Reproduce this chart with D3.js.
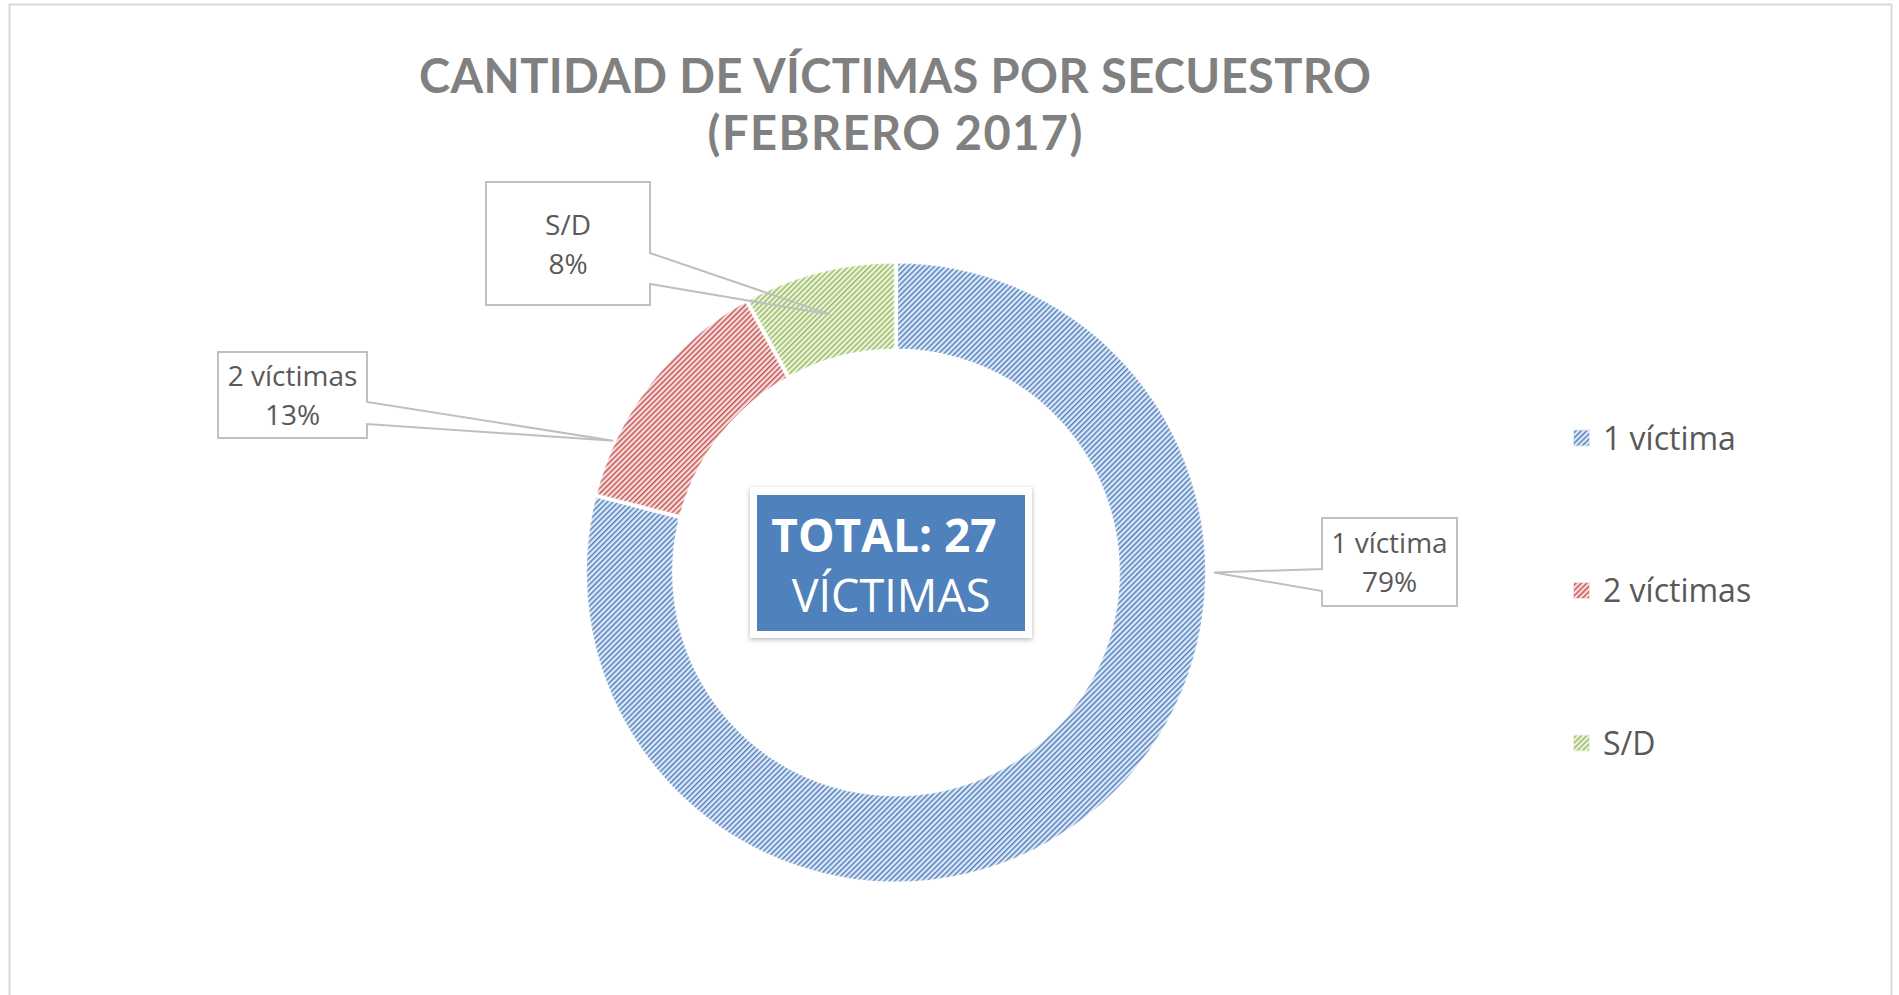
<!DOCTYPE html>
<html>
<head>
<meta charset="utf-8">
<script src="https://cdn.jsdelivr.net/npm/d3@7"></script>
<style>
  body { margin: 0; background: #fff; }
  svg { display: block; }
</style>
</head>
<body>
<svg id="chart" width="1899" height="995"></svg>
<script>
let categories = ["1 víctima", "2 víctimas", "S/D"];
let percentages = [79, 13, 8];
let titleLines = ["CANTIDAD DE VÍCTIMAS POR SECUESTRO", "(FEBRERO 2017)"];
let totalLines = ["TOTAL: 27", "VÍCTIMAS"];

let lineColors = ["#4a7cc0", "#c24e4b", "#94b957"];
let backColors = ["#dfe8f4", "#f5dedd", "#edf3e1"];

let svg = d3.select("#chart");
let cx = 896, cy = 572.5;
let outerR = 311, innerR = 222;
let font = "'Open Sans', 'Noto Sans', sans-serif";

// chart frame
svg.append("rect")
  .attr("x", 9.5).attr("y", 4.5)
  .attr("width", 1882).attr("height", 1010)
  .attr("fill", "#fff")
  .attr("stroke", "#d9d9d9")
  .attr("stroke-width", 2);

let defs = svg.append("defs");

categories.forEach((c, i) => {
  let p = defs.append("pattern")
    .attr("id", "pat" + i)
    .attr("patternUnits", "userSpaceOnUse")
    .attr("width", 3.8).attr("height", 10)
    .attr("patternTransform", "rotate(45)");
  p.append("rect").attr("width", 3.8).attr("height", 10).attr("fill", backColors[i]);
  p.append("rect").attr("width", 1.4).attr("height", 10).attr("fill", lineColors[i]);
});

let soft = defs.append("filter").attr("id", "soft")
  .attr("x", "-5%").attr("y", "-5%").attr("width", "110%").attr("height", "110%");
soft.append("feGaussianBlur").attr("stdDeviation", 1.2);

let shadow = defs.append("filter").attr("id", "shadow")
  .attr("x", "-10%").attr("y", "-10%").attr("width", "120%").attr("height", "130%");
shadow.append("feDropShadow")
  .attr("dx", 0).attr("dy", 1.5).attr("stdDeviation", 2.5)
  .attr("flood-color", "#000").attr("flood-opacity", 0.3);

// title
svg.append("g")
  .selectAll("text")
  .data(titleLines)
  .enter()
  .append("text")
  .attr("x", 895)
  .attr("y", (d, i) => 93 + i * 57)
  .attr("text-anchor", "middle")
  .attr("textLength", (d, i) => (i === 0 ? 952 : 375))
  .attr("lengthAdjust", "spacing")
  .attr("font-family", "Lato, 'Open Sans', sans-serif")
  .attr("font-weight", "bold")
  .attr("font-size", 47)
  .attr("fill", "#808080")
  .text((d) => d);

// donut
let pie = d3.pie().sort(null).value((d) => d);
let arcs = pie(percentages);
let arc = d3.arc().innerRadius(innerR).outerRadius(outerR);

// soft-edged mask so the hatching stays crisp inside the slices
let mask = defs.append("mask").attr("id", "softMask")
  .attr("maskUnits", "userSpaceOnUse")
  .attr("x", 0).attr("y", 0).attr("width", 1899).attr("height", 995);
mask.append("g")
  .attr("transform", `translate(${cx},${cy})`)
  .attr("filter", "url(#soft)")
  .selectAll("path")
  .data(arcs)
  .enter()
  .append("path")
  .attr("d", arc)
  .attr("fill", "#fff")
  .attr("stroke", "#000")
  .attr("stroke-width", 3.5);

let donut = svg.append("g").attr("mask", "url(#softMask)")
  .append("g")
  .attr("transform", `translate(${cx},${cy})`);

donut.selectAll("path")
  .data(arcs)
  .enter()
  .append("path")
  .attr("d", arc)
  .attr("fill", (d, i) => `url(#pat${i})`)
  .attr("stroke", "#fff")
  .attr("stroke-width", 3.5);

// data label callouts
let labelLayout = [
  { box: [1322, 518, 135, 88], side: "left", notch: [569, 591], tip: [90, 318] },
  { box: [218, 352, 149, 86], side: "right", notch: [402, 424], tip: [295, 312] },
  { box: [486, 182, 164, 123], side: "right", notch: [253, 284], tip: null },
];

let callouts = svg.append("g");
arcs.forEach((a, i) => {
  let L = labelLayout[i];
  let [x, y, w, h] = L.box;
  let t;
  if (L.tip) {
    t = d3.pointRadial((L.tip[0] * Math.PI) / 180, L.tip[1]);
  } else {
    t = arc.centroid(a);
  }
  let tx = cx + t[0], ty = cy + t[1];
  let path;
  if (L.side === "right") {
    path = `M${x},${y}H${x + w}V${L.notch[0]}L${tx},${ty}L${x + w},${L.notch[1]}V${y + h}H${x}Z`;
  } else {
    path = `M${x},${y}H${x + w}V${y + h}H${x}V${L.notch[1]}L${tx},${ty}L${x},${L.notch[0]}Z`;
  }
  callouts.append("rect")
    .attr("x", x).attr("y", y).attr("width", w).attr("height", h)
    .attr("fill", "#fff");
  callouts.append("path")
    .attr("d", path)
    .attr("fill", "none")
    .attr("stroke", "#bfbfbf")
    .attr("stroke-width", 2);
  let lines = [categories[i], percentages[i] + "%"];
  callouts.selectAll(null)
    .data(lines)
    .enter()
    .append("text")
    .attr("x", x + w / 2)
    .attr("y", (d, j) => y + h / 2 + (j === 0 ? -19 : 20))
    .attr("dy", "0.36em")
    .attr("text-anchor", "middle")
    .attr("font-family", font)
    .attr("font-size", 28)
    .attr("fill", "#595959")
    .text((d) => d);
});

// centre box
let center = svg.append("g");
center.append("rect")
  .attr("x", 750).attr("y", 487).attr("width", 282).attr("height", 151)
  .attr("fill", "#fff")
  .attr("filter", "url(#shadow)");
center.append("rect")
  .attr("x", 757).attr("y", 495).attr("width", 268).attr("height", 136)
  .attr("fill", "#4f81bd");
center.selectAll("text")
  .data(totalLines)
  .enter()
  .append("text")
  .attr("x", (d, i) => (i === 0 ? 884 : 891))
  .attr("y", (d, i) => (i === 0 ? 552 : 612))
  .attr("text-anchor", "middle")
  .attr("font-family", font)
  .attr("font-weight", (d, i) => (i === 0 ? "bold" : "normal"))
  .attr("font-size", (d, i) => (i === 0 ? 46 : 45))
  .attr("fill", "#fff")
  .text((d) => d);

// legend
let legendY = d3.scalePoint().domain(categories).range([438, 743]);
let legend = svg.append("g");
let items = legend.selectAll("g")
  .data(categories)
  .enter()
  .append("g")
  .attr("transform", (d) => `translate(1573,${legendY(d)})`);
items.append("rect")
  .attr("x", 0.5).attr("y", -8)
  .attr("width", 16).attr("height", 16)
  .attr("fill", (d, i) => `url(#pat${i})`)
  .attr("stroke", (d, i) => backColors[i])
  .attr("stroke-width", 1);
items.append("text")
  .attr("x", 30)
  .attr("dy", "0.36em")
  .attr("font-family", font)
  .attr("font-size", 32)
  .attr("fill", "#595959")
  .text((d) => d);
</script>
</body>
</html>
